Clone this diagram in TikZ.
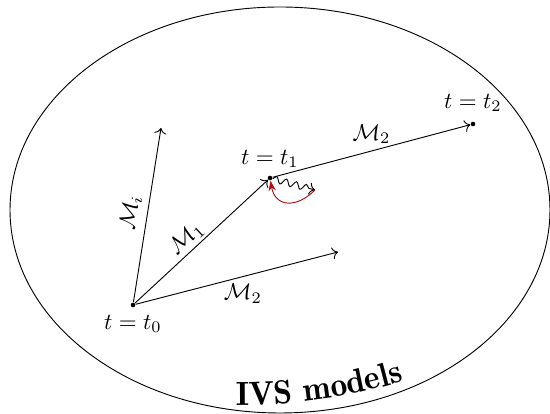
\documentclass[tikz,border=0pt]{standalone}
\usetikzlibrary{decorations.pathmorphing,decorations.text,arrows.meta,positioning}
\definecolor{darkred}{RGB}{170,15,15}
\begin{document}
\begin{tikzpicture}[x=0.4348pt,y=0.4348pt,
  dot/.style={circle,fill,inner sep=0pt,minimum size=2pt},
  lbl/.style={inner sep=3pt}]
\useasboundingbox (0,0) rectangle (550,-414);
% outer set
\draw (280,-210) ellipse [x radius=270, y radius=203];
\path[decorate, decoration={text along path, text align=center,
  text={|\fontsize{14.6}{17}\fontseries{b}\selectfont|IVS models}}]
  (240,175) ++(262:580) arc[start angle=262, end angle=294, radius=580];
% points
\node[dot] (t0) at (133,-305) {};
\node[dot] (t1) at (270,-178) {};
\node[dot] (t2) at (473,-124) {};
\coordinate (mi) at (161,-128);
\coordinate (m2) at (338,-252);
\coordinate (w) at (315,-190);
\node[below=0pt of t0, lbl] (lt0) {$t=t_0$};
\node[above=0pt of t1, lbl] (lt1) {$t=t_1$};
\node[above=1pt of t2, lbl] (lt2) {$t=t_2$};
% arrows
\draw[->] (t0) -- node[midway,above,sloped,lbl] (lMi) {$\mathcal{M}_i$} (mi);
\draw[->] (t0) -- node[pos=0.45,above,sloped,inner sep=1pt] (lM1) {$\mathcal{M}_1$} (t1);
\draw[->] (t0) -- node[pos=0.53,below,lbl] (lM2a) {$\mathcal{M}_2$} (m2);
\draw[->] (t1) -- node[midway,above,lbl] (lM2b) {$\mathcal{M}_2$} (t2);
\draw[->, decorate, decoration={snake, amplitude=1.4pt, segment length=4.5pt, post length=1pt}] (t1) -- (w);
\draw[darkred, -{Stealth[length=4.5pt,width=3.2pt]}] (w) to[out=225,in=-80,looseness=1.5] (t1);
\end{tikzpicture}
\end{document}
